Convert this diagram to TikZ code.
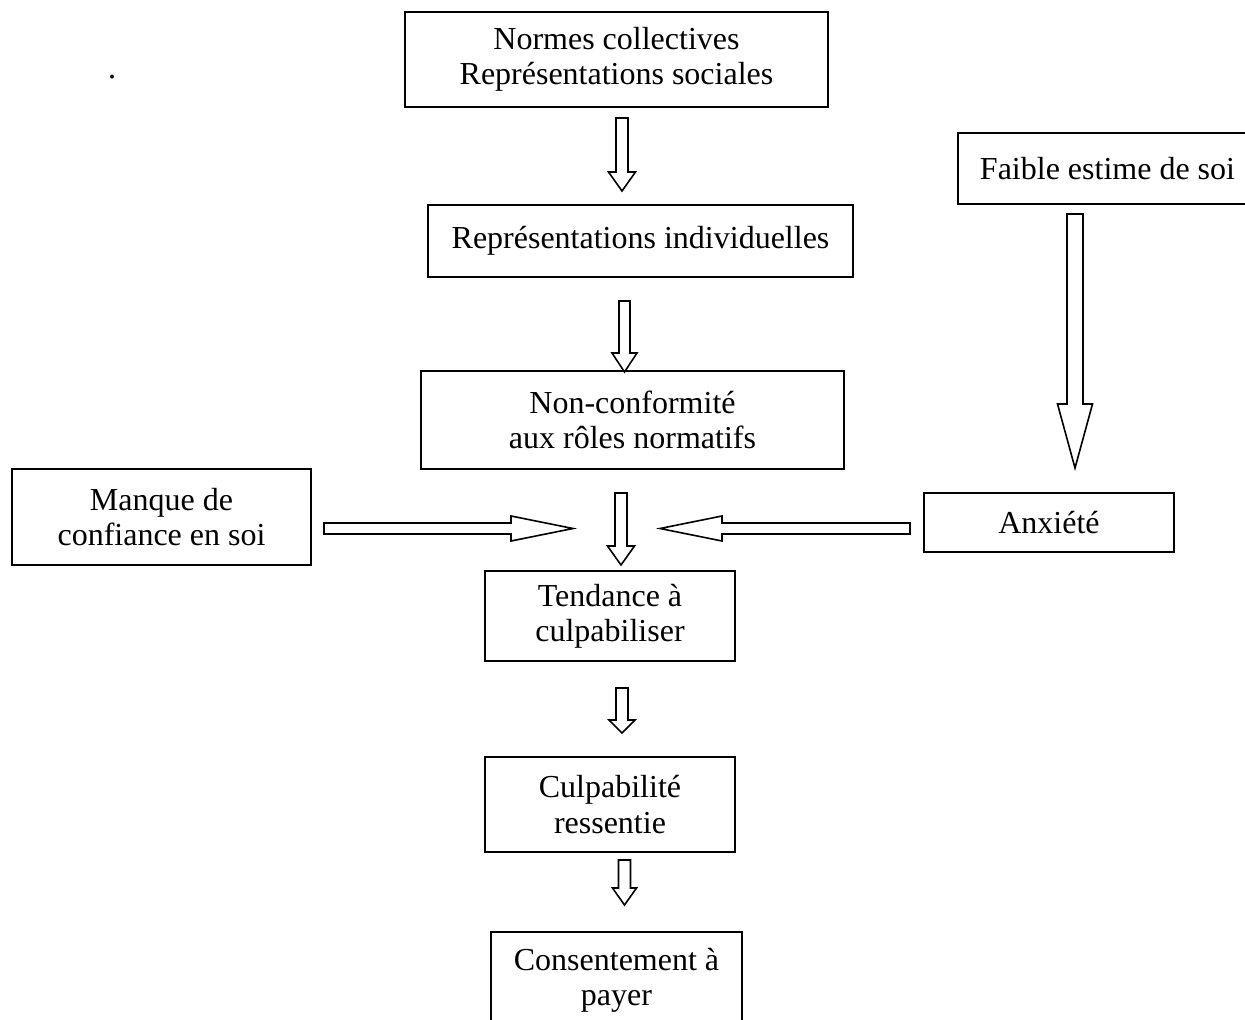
\documentclass[tikz,border=0pt]{standalone}
\usepackage{fontspec}
\setmainfont{Liberation Serif}
\usetikzlibrary{positioning}
\tikzset{
  box/.style = {
    rectangle, draw, line width=0.75pt,
    inner sep=0pt, align=center,
    font=\fontsize{12}{13.2}\selectfont,
  },
  % size of a box, in pixels of the grid (1px = 0.375pt)
  boxsize/.style 2 args = {minimum width=#1*0.375pt, minimum height=#2*0.375pt},
  barrow/.style = {draw, line width=0.6pt, fill=white, line join=miter},
}
% block arrow: #1 start, #2 angle, #3 length, #4 shaft width, #5 head width, #6 head length
\newcommand{\blockarrow}[6]{%
  \draw[barrow, shift={#1}, rotate=#2]
    (0,-#4/2) -- (#3-#6,-#4/2) -- (#3-#6,-#5/2) -- (#3,0)
    -- (#3-#6,#5/2) -- (#3-#6,#4/2) -- (0,#4/2) -- cycle;}

\begin{document}
\begin{tikzpicture}[x=0.375pt, y=-0.375pt]

\useasboundingbox (0,0) rectangle (1245,1020);

% ══════════════════════════════════════════════════════════════════════════
%  Boxes (pixel coordinates, y down)
% ══════════════════════════════════════════════════════════════════════════

\node[box, boxsize={423}{95}] (norms)   at (616.5, 59.5)
  {Normes collectives\\Représentations sociales};
\node[box, boxsize={425}{72}] (indiv)   at (640.5, 241)
  {Représentations individuelles};
\node[box, boxsize={423}{98}] (noncf)   at (632.5, 420)
  {Non-conformité\\aux rôles normatifs};
\node[box, boxsize={299}{96}] (manque)  at (161.5, 517)
  {Manque de\\confiance en soi};
\node[box, boxsize={299}{71}] (faible)  at (1107.5, 168.5)
  {Faible estime de soi};
\node[box, boxsize={250}{59}] (anxiete) at (1049, 522.5)
  {Anxiété};
\node[box, boxsize={250}{90}] (tend)    at (610, 616)
  {Tendance à\\culpabiliser};
\node[box, boxsize={250}{95}] (culp)    at (610, 804.5)
  {Culpabilité\\ressentie};
\node[box, boxsize={251}{96}] (cons)    at (616.5, 980)
  {Consentement à\\payer};

% stray dot, top left
\node[anchor=base, inner sep=0pt, font=\fontsize{12}{13.2}\selectfont] (dot) at (112, 79) {.};

% ══════════════════════════════════════════════════════════════════════════
%  Block arrows
% ══════════════════════════════════════════════════════════════════════════

\blockarrow{(622,118)}{-90}{73}{12}{27}{19}     % norms -> indiv
\blockarrow{(624.5,301)}{-90}{71}{11}{25}{19}   % indiv -> noncf
\blockarrow{(621,493)}{-90}{72}{12}{27}{19}     % noncf -> tend
\blockarrow{(622,688)}{-90}{45}{12}{26}{13}     % tend -> culp
\blockarrow{(624.5,860)}{-90}{45}{12}{24}{17}   % culp -> cons
\blockarrow{(1075,214)}{-90}{254}{16}{35}{64}   % faible -> anxiete

% side inputs
\blockarrow{(324,528.5)}{0}{249}{11}{25}{62}    % manque ->
\blockarrow{(910,528.5)}{180}{250}{11}{25}{62}  % <- anxiete

\end{tikzpicture}
\end{document}
